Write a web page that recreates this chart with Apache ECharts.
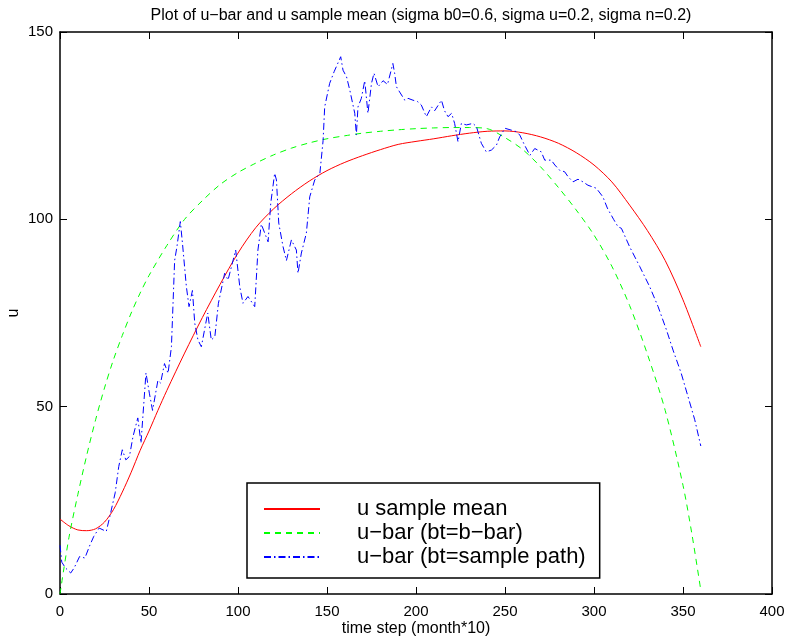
<!DOCTYPE html>
<html>
<head>
<meta charset="utf-8">
<script src="https://cdn.jsdelivr.net/npm/echarts@6/dist/echarts.min.js"></script>
<style>
html,body{margin:0;padding:0;background:#fff;}
#chart{width:788px;height:643px;}
</style>
</head>
<body>
<div id="chart"></div>
<script>
// ---- data ----
var xTicks = [0, 50, 100, 150, 200, 250, 300, 350, 400];
var yTicks = [0, 50, 100, 150];

var meanX = [0,5,10,15,20,25,30,35,40,45,50,55,60,70,80,90,100,110,120,130,140,150,160,170,180,190,200,210,220,230,240,250,260,270,280,290,300,310,320,330,340,350,360];
var meanY = [20,18.2,17.1,16.9,17.4,19.2,22.5,27.2,32.5,38.3,43.5,49,54.3,64.3,73.8,82.7,91,97.8,102.8,106.8,110.2,113,115.2,117,118.6,120,120.8,121.5,122.3,123,123.5,123.6,123.1,122,120.3,117.8,114.5,110,103.8,97,89,78.5,66];

var barX = [0,5,10,15,20,25,30,35,40,45,50,60,70,80,90,100,110,120,130,140,150,160,170,180,190,200,210,220,230,240,250,260,270,280,290,300,310,320,330,340,350,355,360];
var barY = [0,15,26.5,37,46.5,55,62.5,69,75,80.3,85,93,100,105,109.3,112.5,115,117.2,119,120.4,121.5,122.3,123,123.5,123.9,124.2,124.4,124.5,124.5,124.2,121.8,118.6,114,108.5,102.5,95.8,87.5,77,64,49,29,16,1];

var pathX = [0,1,3,6,8,11,14,16.5,19,22,26,28,31,33,35,37,39,41,43.7,45.5,48.3,50.2,52,55,56.5,58.7,60.7,62.6,64.4,65.7,67.6,68.8,71,72.5,74.4,75.7,77.5,79.4,83,85,87,89,92.5,94.4,98.7,101,102.8,105.6,109.4,111.2,113.1,116.9,118.4,120.6,121.6,122.9,125.3,127.2,130,132.8,133.7,135.6,138.4,140.3,143.1,146,147.8,148.7,151.5,154,157.7,159,161,162.8,165.6,166.5,167.4,169.3,171.2,173,175,176.4,178.7,181.5,184,187,188,189,190.8,193.7,195.5,198.3,201,203,205.8,208.7,210.5,214.3,216,218,220,221.7,223.6,225.5,228.3,232,234,236.7,239.5,242.4,245.2,247,250,251,253.6,256.4,258.3,261,264,266.7,270.4,272.3,276,278,280.7,283.5,285.4,288.2,291,293.8,296.6,301.3,305,307.5,311,313.5,315.4,320,325.7,331.3,336,340.7,344.4,349,352.8,356.6,360];
var pathY = [13,8.5,7,5.6,7,10,9.6,12.7,15.4,17.6,16.7,20.7,27,34,38.5,35.8,36.7,42,47,40.3,59,53.6,49,57,56.3,61.5,58.9,66,89,92.7,99.4,93.6,82,76.7,81,72.3,67.8,66,75,67.8,68.7,77.6,85.6,83.8,91.8,82,77.6,79.4,76.7,91.8,98.7,94,104.3,112.3,110.5,99,92.7,89,94.5,91.8,85.6,91,96.3,106,110.5,112.3,121,130,136.3,139.4,143.4,139.8,138,134.5,128.3,122.5,130,132.3,137,128.3,136.3,139,135.4,137,136,141.6,139,135.4,134,131.8,132.3,131.8,131.4,130.5,127.4,130,129,131.8,129,127.4,128.3,125.6,120.7,125.6,125.2,125.6,124.7,120.3,118,118.5,119.8,122,124.3,124.7,123.8,123.4,122.5,119.8,117.1,118.9,118,115.8,115.8,114.5,113.1,112.7,111.4,110,110.7,110,109.1,108.3,106,103,100,98,97.6,92.7,87.4,82,76.7,70.5,65.1,58.9,52.7,46.5,39.5];

var seriesNames = ['u sample mean', 'u\u2212bar (bt=b\u2212bar)', 'u\u2212bar (bt=sample path)'];
var titleText = 'Plot of u\u2212bar and u sample mean (sigma b0=0.6, sigma u=0.2, sigma n=0.2)';
var xName = 'time step (month*10)';
var yName = 'u';

function pairs(xs, ys) { return xs.map(function (x, i) { return [x, ys[i]]; }); }

var FONT = 'Liberation Sans, Arial, Helvetica, sans-serif';
var chart = echarts.init(document.getElementById('chart'), null, {renderer: 'canvas'});

var axisLine = {show: true, onZero: false, lineStyle: {color: '#000', width: 1.5}};
var axisTick = {show: true, inside: true, length: 7, lineStyle: {color: '#000', width: 1}};

var option = {
  animation: false,
  backgroundColor: '#fff',
  title: {
    text: titleText, left: 416, top: 3, textAlign: 'center',
    textStyle: {fontFamily: FONT, fontSize: 16, fontWeight: 'normal', color: '#000'}
  },
  grid: {left: 60, right: 16, top: 32, bottom: 49, containLabel: false, outerBoundsMode: 'none'},
  legend: {
    orient: 'vertical', left: 247, top: 483,
    padding: [14, 14, 9, 16],
    backgroundColor: '#fff', borderColor: '#000', borderWidth: 1.5,
    itemWidth: 56, itemHeight: 14, itemGap: 0,
    itemStyle: {opacity: 0},
    textStyle: {fontFamily: FONT, fontSize: 22, color: '#000', lineHeight: 24, padding: [0, 0, 0, 32]},
    data: seriesNames
  },
  xAxis: [{
    type: 'value', min: 0, max: 400, interval: 50, position: 'bottom',
    name: xName, nameLocation: 'middle', nameGap: 27, nameMoveOverlap: false,
    nameTextStyle: {fontFamily: FONT, fontSize: 16, color: '#000'},
    axisLine: axisLine, axisTick: axisTick,
    axisLabel: {fontFamily: FONT, fontSize: 15, color: '#000', margin: 10,
      formatter: function (v) { return xTicks.indexOf(v) >= 0 ? String(v) : ''; }},
    splitLine: {show: false}
  }, {
    type: 'value', min: 0, max: 400, interval: 50, position: 'top',
    axisLine: axisLine, axisTick: axisTick, axisLabel: {show: false}, splitLine: {show: false}
  }],
  yAxis: [{
    type: 'value', min: 0, max: 150, interval: 50, position: 'left',
    name: yName, nameLocation: 'middle', nameGap: 38, nameMoveOverlap: false,
    nameTextStyle: {fontFamily: FONT, fontSize: 16, color: '#000'},
    axisLine: axisLine, axisTick: axisTick,
    axisLabel: {fontFamily: FONT, fontSize: 15, color: '#000', margin: 7,
      formatter: function (v) { return yTicks.indexOf(v) >= 0 ? String(v) : ''; }},
    splitLine: {show: false}
  }, {
    type: 'value', min: 0, max: 150, interval: 50, position: 'right',
    axisLine: axisLine, axisTick: axisTick, axisLabel: {show: false}, splitLine: {show: false}
  }],
  series: [{
    name: seriesNames[0], type: 'line', data: pairs(meanX, meanY),
    smooth: 0.3, showSymbol: false, symbol: 'none', color: '#ff0000',
    lineStyle: {color: '#ff0000', width: 1, type: 'solid'}
  }, {
    name: seriesNames[1], type: 'line', data: pairs(barX, barY),
    smooth: 0.3, showSymbol: false, symbol: 'none', color: '#00ff00',
    lineStyle: {color: '#00ff00', width: 1, type: [6, 5]}
  }, {
    name: seriesNames[2], type: 'line', data: pairs(pathX, pathY),
    showSymbol: false, symbol: 'none', color: '#0000ff',
    lineStyle: {color: '#0000ff', width: 1, type: [7, 3, 1.5, 3]}
  }]
};
chart.setOption(option);
</script>
</body>
</html>
